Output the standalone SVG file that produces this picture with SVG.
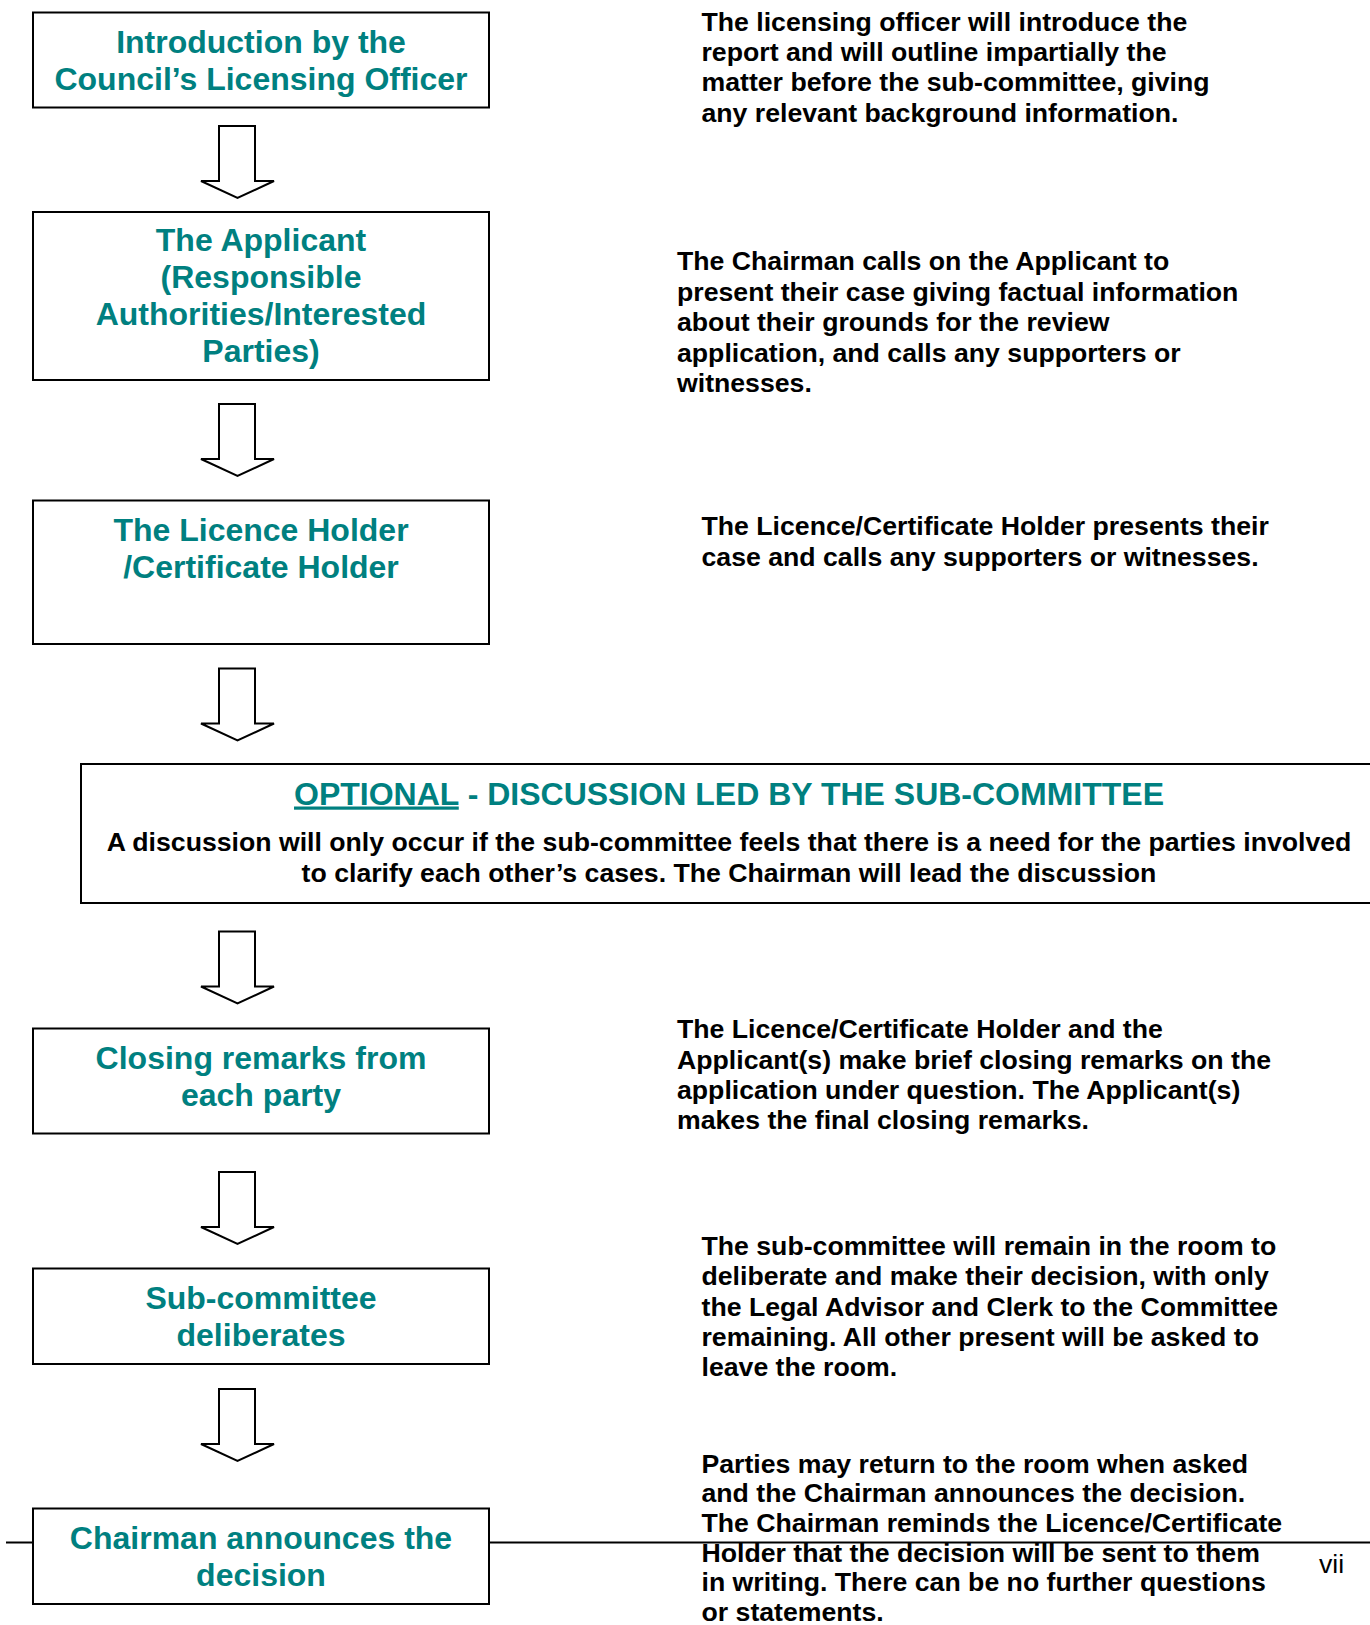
<svg xmlns="http://www.w3.org/2000/svg" width="1370" height="1625" viewBox="0 0 1370 1625">
<style>
.box{fill:#fff;stroke:#000;stroke-width:2}
.t{font-family:"Liberation Sans",Arial,sans-serif;font-weight:bold;font-size:32px;fill:#008080;text-anchor:middle}
.d{font-family:"Liberation Sans",Arial,sans-serif;font-weight:bold;font-size:26.67px;fill:#000}
.arr{fill:#fff;stroke:#000;stroke-width:2;stroke-linejoin:miter}
</style>
<defs>
<path id="arrow" class="arr" d="M219,0 V55 H201 L237.5,72 L274,55 H255 V0 Z"/>
</defs>
<rect width="1370" height="1625" fill="#fff"/>
<line x1="6" y1="1542.5" x2="1370" y2="1542.5" stroke="#000" stroke-width="2"/>
<g id="connectors">
<use href="#arrow" y="126"/>
<use href="#arrow" y="404"/>
<use href="#arrow" y="668.5"/>
<use href="#arrow" y="931.5"/>
<use href="#arrow" y="1172"/>
<use href="#arrow" y="1389"/>
</g>
<g id="n1">
<rect class="box" x="33" y="12.5" width="456" height="95"/>
<text class="t" x="261" y="52.5">Introduction by the</text>
<text class="t" x="261" y="89.5">Council’s Licensing Officer</text>
</g>
<g id="n2">
<rect class="box" x="33" y="212" width="456" height="168"/>
<text class="t" x="261" y="251">The Applicant</text>
<text class="t" x="261" y="288">(Responsible</text>
<text class="t" x="261" y="325">Authorities/Interested</text>
<text class="t" x="261" y="362">Parties)</text>
</g>
<g id="n3">
<rect class="box" x="33" y="500.5" width="456" height="143.5"/>
<text class="t" x="261" y="540.5">The Licence Holder</text>
<text class="t" x="261" y="577.5">/Certificate Holder</text>
</g>
<g id="n4">
<rect class="box" x="81" y="764" width="1300" height="139"/>
<text class="t" x="729" y="804.5"><tspan text-decoration="underline">OPTIONAL</tspan> - DISCUSSION LED BY THE SUB-COMMITTEE</text>
<text class="d" x="729" y="851" text-anchor="middle">A discussion will only occur if the sub-committee feels that there is a need for the parties involved</text>
<text class="d" x="729" y="881.5" text-anchor="middle">to clarify each other’s cases. The Chairman will lead the discussion</text>
</g>
<g id="n5">
<rect class="box" x="33" y="1028.5" width="456" height="105"/>
<text class="t" x="261" y="1069">Closing remarks from</text>
<text class="t" x="261" y="1106">each party</text>
</g>
<g id="n6">
<rect class="box" x="33" y="1268.5" width="456" height="95.5"/>
<text class="t" x="261" y="1308.5">Sub-committee</text>
<text class="t" x="261" y="1345.5">deliberates</text>
</g>
<g id="n7">
<rect class="box" x="33" y="1508.5" width="456" height="95.5"/>
<text class="t" x="261" y="1548.5">Chairman announces the</text>
<text class="t" x="261" y="1585.5">decision</text>
</g>
<g id="desc1" class="d">
<text x="701.5" y="30.5">The licensing officer will introduce the</text>
<text x="701.5" y="61">report and will outline impartially the</text>
<text x="701.5" y="91.3">matter before the sub-committee, giving</text>
<text x="701.5" y="121.5">any relevant background information.</text>
</g>
<g id="desc2" class="d">
<text x="677" y="270.3">The Chairman calls on the Applicant to</text>
<text x="677" y="300.8">present their case giving factual information</text>
<text x="677" y="331.3">about their grounds for the review</text>
<text x="677" y="361.8">application, and calls any supporters or</text>
<text x="677" y="392.3">witnesses.</text>
</g>
<g id="desc3" class="d">
<text x="701.5" y="535">The Licence/Certificate Holder presents their</text>
<text x="701.5" y="565.5">case and calls any supporters or witnesses.</text>
</g>
<g id="desc5" class="d">
<text x="677" y="1038.3">The Licence/Certificate Holder and the</text>
<text x="677" y="1068.6">Applicant(s) make brief closing remarks on the</text>
<text x="677" y="1098.9">application under question. The Applicant(s)</text>
<text x="677" y="1129.2">makes the final closing remarks.</text>
</g>
<g id="desc6" class="d">
<text x="701.5" y="1255">The sub-committee will remain in the room to</text>
<text x="701.5" y="1285.3">deliberate and make their decision, with only</text>
<text x="701.5" y="1315.6">the Legal Advisor and Clerk to the Committee</text>
<text x="701.5" y="1345.9">remaining. All other present will be asked to</text>
<text x="701.5" y="1376.2">leave the room.</text>
</g>
<g id="desc7" class="d">
<text x="701.5" y="1472.7">Parties may return to the room when asked</text>
<text x="701.5" y="1502.3">and the Chairman announces the decision.</text>
<text x="701.5" y="1531.9">The Chairman reminds the Licence/Certificate</text>
<text x="701.5" y="1561.5">Holder that the decision will be sent to them</text>
<text x="701.5" y="1591.1">in writing. There can be no further questions</text>
<text x="701.5" y="1620.7">or statements.</text>
</g>
<text x="1319" y="1573" font-family="'Liberation Sans',Arial,sans-serif" font-size="26.67" fill="#000">vii</text>
</svg>
